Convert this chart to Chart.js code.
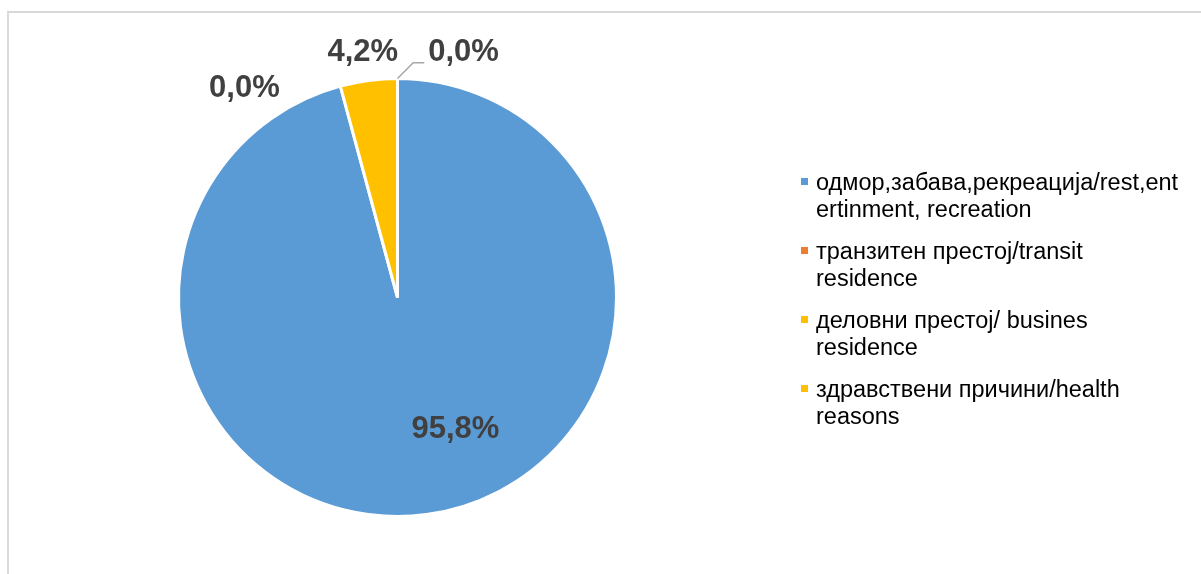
<!DOCTYPE html>
<html>
<head>
<meta charset="utf-8">
<script src="https://cdn.jsdelivr.net/npm/chart.js@4"></script>
<style>
  html, body { margin: 0; padding: 0; background: #fff; }
  #wrap { position: relative; width: 1201px; height: 574px; overflow: hidden; }
  #frame {
    position: absolute; left: 7px; top: 11px; width: 1300px; height: 700px;
    border: 2px solid #d9d9d9; box-sizing: border-box;
  }
  #pie { position: absolute; left: 0; top: 0; }
</style>
</head>
<body>
<div id="wrap">
  <div id="frame"></div>
  <canvas id="pie" width="1201" height="574"></canvas>
</div>
<script>
// ---------------- data ----------------
const categories = [
  ['одмор,забава,рекреација/rest,ent', 'ertinment, recreation'],
  ['транзитен престој/transit', 'residence'],
  ['деловни престој/ busines', 'residence'],
  ['здравствени причини/health', 'reasons']
];
const shares = [95.8, 0.0, 4.2, 0.0];
const sliceColors = ['#5b9bd5', '#ed7d31', '#ffc000', '#ffc000'];

// label placement around each slice: radius factor, angle shift (deg), leader line
const labelLayout = [
  { k: 0.656, da: -16.2, leader: false },
  { k: 1.183, da: -21.1, leader: false },
  { k: 1.13,  da: -0.5,  leader: false },
  { k: 1.158, da: 15.1,  leader: true }
];

const FONT = "'Liberation Sans', Arial, sans-serif";

function pct(v) {
  return v.toFixed(1).replace('.', ',') + '%';
}

// ---------------- value labels ----------------
const valueLabels = {
  id: 'valueLabels',
  afterDatasetsDraw(chart) {
    const ctx = chart.ctx;
    const arcs = chart.getDatasetMeta(0).data;
    ctx.save();
    ctx.font = 'bold 31px ' + FONT;
    ctx.fillStyle = '#404040';
    ctx.textAlign = 'center';
    ctx.textBaseline = 'middle';
    arcs.forEach((arc, i) => {
      const p = arc.getProps(['x', 'y', 'startAngle', 'endAngle', 'outerRadius'], true);
      const lay = labelLayout[i];
      const mid = (p.startAngle + p.endAngle) / 2 + lay.da * Math.PI / 180;
      const lx = p.x + Math.cos(mid) * p.outerRadius * lay.k;
      const ly = p.y + Math.sin(mid) * p.outerRadius * lay.k;
      const text = pct(shares[i]);
      if (lay.leader) {
        const w = ctx.measureText(text).width;
        const left = lx - w / 2;
        ctx.strokeStyle = '#a6a6a6';
        ctx.lineWidth = 1.5;
        ctx.beginPath();
        ctx.moveTo(p.x + Math.cos(p.startAngle) * p.outerRadius, p.y + Math.sin(p.startAngle) * p.outerRadius);
        ctx.lineTo(left - 15, ly + 10);
        ctx.lineTo(left - 4, ly + 10);
        ctx.stroke();
      }
      ctx.fillText(text, lx, ly);
    });
    ctx.restore();
  }
};

// ---------------- legend on the right ----------------
const sideLegend = {
  id: 'sideLegend',
  afterDraw(chart) {
    const ctx = chart.ctx;
    const x0 = 801, firstBase = 190, itemStep = 69, lineStep = 27;
    ctx.save();
    ctx.font = '23.5px ' + FONT;
    ctx.textBaseline = 'alphabetic';
    ctx.textAlign = 'left';
    categories.forEach((lines, i) => {
      const base = firstBase + i * itemStep;
      ctx.fillStyle = sliceColors[i];
      ctx.fillRect(x0, base - 12, 7, 7);
      ctx.fillStyle = '#000';
      lines.forEach((line, j) => ctx.fillText(line, x0 + 15, base + j * lineStep));
    });
    ctx.restore();
  }
};

new Chart(document.getElementById('pie').getContext('2d'), {
  type: 'pie',
  data: {
    labels: categories,
    datasets: [{
      data: shares,
      backgroundColor: sliceColors,
      borderColor: '#ffffff',
      borderWidth: 3
    }]
  },
  options: {
    responsive: false,
    animation: false,
    layout: { padding: { left: 177, top: 77, right: 583, bottom: 56 } },
    plugins: {
      legend: { display: false },
      tooltip: { enabled: false }
    }
  },
  plugins: [valueLabels, sideLegend]
});
</script>
</body>
</html>
